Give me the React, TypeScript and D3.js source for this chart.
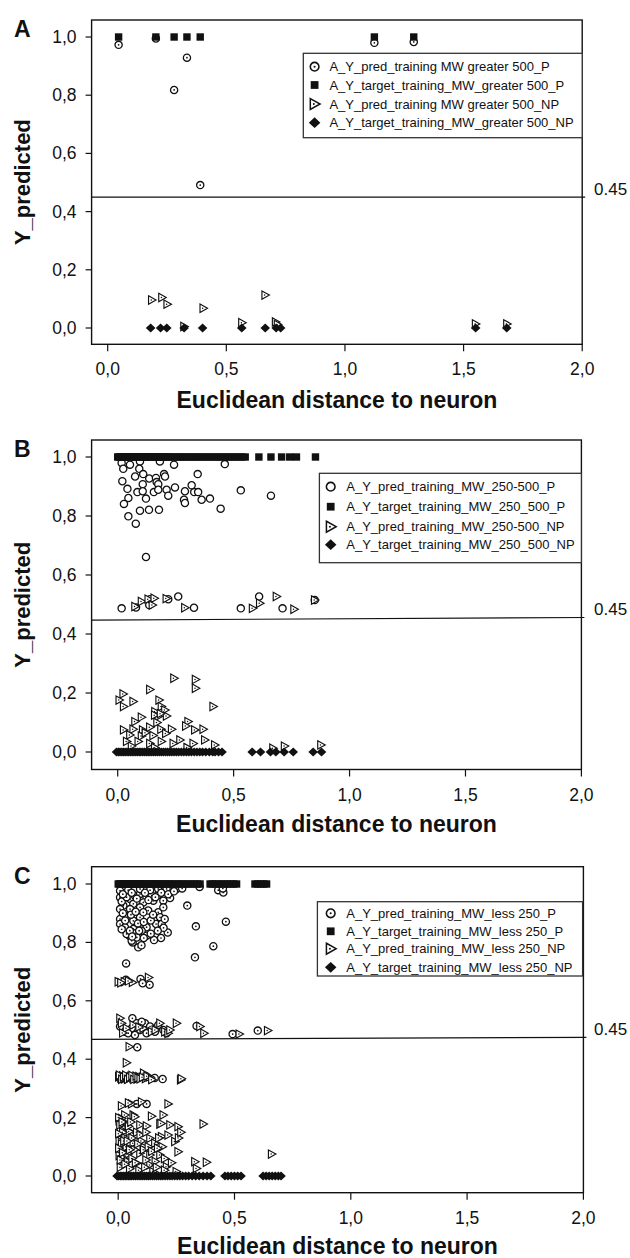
import React from 'react';
import * as d3 from 'd3';

// ---- panel A : MW greater 500 ----
const A_predP = [[0.046, 0.973], [0.203, 0.995], [0.28, 0.818], [0.334, 0.929], [0.39, 0.491], [1.124, 0.98], [1.29, 0.983]];
const A_targetP = [0.046, 0.203, 0.28, 0.334, 0.39, 1.124, 1.29];
const A_predNP = [[0.186, 0.096], [0.229, 0.105], [0.251, 0.082], [0.403, 0.068], [0.664, 0.113], [0.566, 0.018], [0.708, 0.021], [0.716, 0.012], [0.322, 0.005], [1.551, 0.014], [1.683, 0.014]];
const A_targetNP = [0.181, 0.223, 0.249, 0.322, 0.4, 0.565, 0.664, 0.71, 0.729, 1.551, 1.682];
const A_labels = [
  'A_Y_pred_training MW greater 500_P',
  'A_Y_target_training_MW_greater 500_P',
  'A_Y_pred_training MW greater 500_NP',
  'A_Y_target_training_MW_greater 500_NP',
];

// ---- panel B : MW 250-500 ----
const B_predP = [
  [0.017, 0.98], [0.053, 0.974], [0.096, 0.985], [0.182, 0.985], [0.243, 0.974], [0.462, 0.976],
  [0.024, 0.96], [0.093, 0.96], [0.075, 0.934], [0.11, 0.942], [0.2, 0.942], [0.204, 0.934], [0.345, 0.942],
  [0.136, 0.927], [0.165, 0.929], [0.168, 0.915], [0.02, 0.918], [0.108, 0.908], [0.175, 0.908],
  [0.042, 0.892], [0.085, 0.881], [0.108, 0.884], [0.156, 0.881], [0.175, 0.889], [0.211, 0.889], [0.247, 0.897],
  [0.29, 0.884], [0.319, 0.904], [0.33, 0.881], [0.347, 0.881], [0.218, 0.869], [0.046, 0.861], [0.122, 0.859],
  [0.286, 0.855], [0.29, 0.844], [0.362, 0.855], [0.398, 0.859], [0.531, 0.887], [0.661, 0.869],
  [0.027, 0.841], [0.096, 0.818], [0.135, 0.821], [0.178, 0.821], [0.444, 0.825], [0.046, 0.799], [0.078, 0.774], [0.122, 0.661],
  [0.017, 0.487], [0.079, 0.49], [0.136, 0.498], [0.139, 0.518], [0.218, 0.518], [0.261, 0.527], [0.329, 0.489],
  [0.531, 0.487], [0.61, 0.527], [0.711, 0.487], [0.85, 0.515],
];
const B_targetP = [
  0.0, 0.006, 0.012, 0.02, 0.027, 0.033, 0.04, 0.048, 0.055, 0.062, 0.07, 0.078, 0.085, 0.093, 0.1, 0.108,
  0.115, 0.124, 0.132, 0.14, 0.148, 0.157, 0.165, 0.173, 0.182, 0.19, 0.2, 0.21, 0.22, 0.232, 0.245, 0.258,
  0.27, 0.284, 0.298, 0.312, 0.326, 0.34, 0.355, 0.37, 0.385, 0.4, 0.415, 0.43, 0.445, 0.46, 0.475, 0.49,
  0.505, 0.52, 0.535, 0.55, 0.609, 0.661, 0.707, 0.742, 0.771, 0.853,
];
const B_predNP = [
  [0.075, 0.493], [0.103, 0.51], [0.132, 0.518], [0.158, 0.521], [0.15, 0.498], [0.21, 0.52], [0.29, 0.489],
  [0.582, 0.487], [0.613, 0.504], [0.685, 0.527], [0.761, 0.484], [0.85, 0.515],
  [0.243, 0.25], [0.336, 0.246], [0.336, 0.216], [0.139, 0.212], [0.024, 0.197], [0.007, 0.176], [0.067, 0.171],
  [0.026, 0.154], [0.179, 0.176], [0.412, 0.154], [0.189, 0.154], [0.161, 0.137], [0.204, 0.142], [0.175, 0.12],
  [0.211, 0.122], [0.103, 0.118], [0.075, 0.103], [0.304, 0.103], [0.294, 0.088], [0.333, 0.075], [0.369, 0.077],
  [0.026, 0.075], [0.067, 0.077], [0.108, 0.075], [0.139, 0.084], [0.187, 0.077], [0.233, 0.077], [0.053, 0.058],
  [0.103, 0.054], [0.153, 0.056], [0.208, 0.063], [0.269, 0.041], [0.326, 0.029], [0.376, 0.041], [0.419, 0.024],
  [0.039, 0.036], [0.089, 0.036], [0.139, 0.029], [0.189, 0.036], [0.24, 0.029], [0.17, 0.1], [0.16, 0.125],
  [0.185, 0.13], [0.12, 0.065], [0.06, 0.02], [0.16, 0.015], [0.3, 0.015], [0.67, 0.013], [0.72, 0.02], [0.877, 0.024],
];
const B_targetNP = [
  -0.005, 0.003, 0.01, 0.018, 0.025, 0.032, 0.04, 0.047, 0.055, 0.062, 0.07, 0.078, 0.085, 0.093, 0.1, 0.108,
  0.116, 0.124, 0.131, 0.139, 0.147, 0.155, 0.163, 0.171, 0.18, 0.188, 0.197, 0.206, 0.215, 0.224, 0.233, 0.243,
  0.253, 0.263, 0.274, 0.285, 0.296, 0.307, 0.318, 0.33, 0.342, 0.354, 0.366, 0.38, 0.395, 0.41, 0.42, 0.435,
  0.45, 0.58, 0.616, 0.659, 0.682, 0.718, 0.757, 0.843, 0.879,
];
const B_labels = [
  'A_Y_pred_training_MW_250-500_P',
  'A_Y_target_training_MW_250_500_P',
  'A_Y_pred_training_MW_250-500_NP',
  'A_Y_target_training_MW_250_500_NP',
];

// ---- panel C : MW less 250 ----
const C_predP = [
  [0.251, 0.983], [0.43, 0.979], [0.452, 0.971], [0.297, 0.926], [0.334, 0.855], [0.463, 0.871], [0.409, 0.787],
  [0.33, 0.749], [0.034, 0.728], [0.213, 0.834], [0.184, 0.815], [0.154, 0.808], [0.086, 0.783], [0.062, 0.8],
  [0.048, 0.823], [0.008, 0.954], [0.029, 0.966], [0.051, 0.949], [0.072, 0.96], [0.094, 0.966], [0.122, 0.954],
  [0.144, 0.96], [0.172, 0.963], [0.201, 0.954], [0.223, 0.952], [0.194, 0.943], [0.151, 0.943], [0.108, 0.937],
  [0.065, 0.932], [0.022, 0.926], [0.008, 0.914], [0.051, 0.914], [0.094, 0.92], [0.129, 0.909], [0.172, 0.903],
  [0.18, 0.886], [0.008, 0.88], [0.043, 0.891], [0.065, 0.874], [0.094, 0.886], [0.008, 0.863], [0.029, 0.852],
  [0.065, 0.846], [0.094, 0.857], [0.122, 0.852], [0.163, 0.863], [0.187, 0.863], [0.036, 0.829], [0.072, 0.831],
  [0.101, 0.84], [0.122, 0.823], [0.058, 0.806], [0.08, 0.817], [0.137, 0.979], [0.094, 0.983], [0.208, 0.983],
  [0.043, 0.979], [0.008, 0.977], [0.172, 0.983], [0.194, 0.92], [0.108, 0.903],
  [0.015, 0.94], [0.036, 0.955], [0.058, 0.97], [0.08, 0.95], [0.115, 0.97], [0.13, 0.945], [0.16, 0.955],
  [0.185, 0.97], [0.215, 0.965], [0.02, 0.9], [0.03, 0.875], [0.055, 0.895], [0.075, 0.905], [0.085, 0.865],
  [0.11, 0.87], [0.14, 0.875], [0.15, 0.895], [0.2, 0.88], [0.195, 0.85], [0.17, 0.84], [0.14, 0.83],
  [0.11, 0.815], [0.09, 0.84], [0.05, 0.84], [0.06, 0.82], [0.1, 0.79], [0.015, 0.845], [0.02, 0.965],
  [0.24, 0.975], [0.275, 0.985], [0.35, 0.99], [0.45, 0.985],
  [0.033, 0.672], [0.096, 0.675], [0.135, 0.655], [0.105, 0.66],
  [0.061, 0.54], [0.008, 0.512], [0.029, 0.494], [0.058, 0.506], [0.08, 0.523], [0.094, 0.5], [0.115, 0.523],
  [0.137, 0.512], [0.158, 0.494], [0.172, 0.517], [0.194, 0.5], [0.208, 0.489], [0.043, 0.489], [0.072, 0.483],
  [0.122, 0.489], [0.101, 0.528], [0.337, 0.514], [0.492, 0.486], [0.6, 0.498], [0.082, 0.441],
  [0.122, 0.34], [0.157, 0.336], [0.191, 0.332], [0.1, 0.34], [0.08, 0.247], [0.122, 0.247],
];
const C_targetP = [
  0.0, 0.006, 0.012, 0.018, 0.025, 0.032, 0.04, 0.047, 0.055, 0.062, 0.07, 0.078, 0.086, 0.094, 0.102, 0.11,
  0.118, 0.127, 0.136, 0.145, 0.154, 0.163, 0.172, 0.182, 0.192, 0.202, 0.213, 0.224, 0.236, 0.248, 0.26,
  0.272, 0.285, 0.298, 0.312, 0.326, 0.34, 0.352, 0.395, 0.405, 0.417, 0.43, 0.443, 0.456, 0.47, 0.483,
  0.496, 0.509, 0.588, 0.6, 0.613, 0.626, 0.638,
];
const C_predNP = [
  [0.001, 0.665], [0.027, 0.665], [0.062, 0.663], [0.131, 0.68], [0.012, 0.662], [0.045, 0.668],
  [0.008, 0.54], [0.015, 0.523], [0.036, 0.506], [0.065, 0.517], [0.108, 0.506], [0.144, 0.494], [0.18, 0.523],
  [0.201, 0.494], [0.215, 0.489], [0.223, 0.5], [0.251, 0.523], [0.352, 0.512], [0.369, 0.489], [0.521, 0.486],
  [0.643, 0.498], [0.02, 0.49], [0.09, 0.51], [0.16, 0.5], [0.048, 0.443], [0.036, 0.388],
  [0.003, 0.34], [0.012, 0.336], [0.02, 0.343], [0.028, 0.333], [0.037, 0.338], [0.046, 0.334], [0.055, 0.341],
  [0.064, 0.335], [0.073, 0.338], [0.082, 0.332], [0.09, 0.34], [0.11, 0.352], [0.118, 0.334], [0.135, 0.34],
  [0.006, 0.345], [0.016, 0.331], [0.024, 0.339], [0.033, 0.345], [0.041, 0.331], [0.05, 0.338], [0.06, 0.344],
  [0.068, 0.331], [0.078, 0.342], [0.086, 0.336], [0.095, 0.333], [0.105, 0.338], [0.125, 0.342], [0.145, 0.33],
  [0.269, 0.329], [0.272, 0.333],
  [0.015, 0.24], [0.058, 0.247], [0.101, 0.254], [0.215, 0.247], [0.045, 0.25],
  [0.029, 0.209], [0.065, 0.209], [0.144, 0.205], [0.194, 0.209], [0.366, 0.178], [0.094, 0.175], [0.122, 0.171],
  [0.223, 0.175], [0.258, 0.169], [0.18, 0.178], [0.029, 0.169], [0.015, 0.135], [0.065, 0.146], [0.137, 0.129],
  [0.187, 0.135], [0.215, 0.14], [0.244, 0.118], [0.258, 0.083], [0.158, 0.112], [0.108, 0.1], [0.065, 0.112],
  [0.022, 0.1], [0.043, 0.075], [0.094, 0.078], [0.137, 0.072], [0.18, 0.072], [0.33, 0.049], [0.38, 0.047],
  [0.337, 0.026], [0.022, 0.044], [0.08, 0.044], [0.137, 0.038], [0.208, 0.032], [0.66, 0.075], [0.072, 0.203],
  [0.015, 0.197], [0.029, 0.183], [0.048, 0.152], [0.005, 0.19], [0.01, 0.16], [0.02, 0.15], [0.005, 0.12],
  [0.03, 0.13], [0.012, 0.09], [0.035, 0.1], [0.005, 0.07], [0.025, 0.06], [0.04, 0.05], [0.01, 0.03],
  [0.05, 0.025], [0.06, 0.13], [0.08, 0.15], [0.1, 0.12], [0.11, 0.09], [0.12, 0.055], [0.16, 0.05],
  [0.19, 0.1], [0.2, 0.02], [0.25, 0.015], [0.09, 0.02], [0.15, 0.015], [0.07, 0.09],
  [0.003, 0.2], [0.008, 0.175], [0.018, 0.185], [0.003, 0.145], [0.015, 0.11], [0.025, 0.12], [0.003, 0.095],
  [0.02, 0.08], [0.01, 0.055], [0.03, 0.04], [0.045, 0.17], [0.055, 0.185], [0.04, 0.12], [0.05, 0.09],
  [0.06, 0.06], [0.075, 0.045], [0.085, 0.11], [0.095, 0.14], [0.12, 0.15], [0.13, 0.1], [0.145, 0.085],
  [0.17, 0.095], [0.175, 0.13], [0.2, 0.06], [0.23, 0.045], [0.115, 0.03], [0.165, 0.03], [0.26, 0.13],
  [0.27, 0.15], [0.185, 0.18],
];
const C_targetNP = [
  -0.005, 0.002, 0.009, 0.016, 0.023, 0.03, 0.037, 0.044, 0.051, 0.058, 0.066, 0.074, 0.082, 0.09, 0.098,
  0.106, 0.114, 0.122, 0.13, 0.138, 0.147, 0.156, 0.165, 0.174, 0.183, 0.192, 0.202, 0.212, 0.222, 0.232,
  0.243, 0.254, 0.265, 0.277, 0.29, 0.303, 0.318, 0.333, 0.348, 0.365, 0.382, 0.398, 0.459, 0.472, 0.486,
  0.5, 0.514, 0.528, 0.623, 0.636, 0.649, 0.662, 0.675, 0.688, 0.7,
];
const C_labels = [
  'A_Y_pred_training_MW_less 250_P',
  'A_Y_target_training_MW_less 250_P',
  'A_Y_pred_training_MW_less 250_NP',
  'A_Y_target_training_MW_less 250_NP',
];

const X_TICKS = [0, 0.5, 1, 1.5, 2];
const Y_TICKS = [0, 0.2, 0.4, 0.6, 0.8, 1];
const THRESHOLD_LABEL = '0.45';

const FONT = 'Liberation Sans, Arial, Helvetica, sans-serif';
const INK = '#111';

const panels = [
  {
    letter: 'A', left: 91.6, right: 582.2, top: 20, bottom: 344.3, y0: 328, y1: 37, x0: 107.7, x2: 582.2,
    thr: [0.45, 0.45], dotted: true, titleY: 408,
    legend: { x: 303.3, y: 53.3, w: 278.9, h: 84.4, rows: [66.7, 85, 104, 122.7], sx: 314.6, tx: 329.4 },
    labels: A_labels, predP: A_predP, targetP: A_targetP, predNP: A_predNP, targetNP: A_targetNP,
  },
  {
    letter: 'B', left: 91.6, right: 581.4, top: 440, bottom: 769.5, y0: 752, y1: 457, x0: 117.7, x2: 581.4,
    thr: [0.447, 0.456], dotted: false, titleY: 832,
    legend: { x: 319.4, y: 473.3, w: 262, h: 89.4, rows: [486.7, 506.7, 526.7, 544.7], sx: 330.7, tx: 346.3 },
    labels: B_labels, predP: B_predP, targetP: B_targetP, predNP: B_predNP, targetNP: B_targetNP,
  },
  {
    letter: 'C', left: 91.6, right: 583.4, top: 866.7, bottom: 1192.7, y0: 1176, y1: 884, x0: 118.2, x2: 583.4,
    thr: [0.468, 0.475], dotted: true, titleY: 1254,
    legend: { x: 317.4, y: 901.7, w: 265.2, h: 74.3, rows: [913.3, 931.3, 948.7, 967.3], sx: 330.7, tx: 346.3 },
    labels: C_labels, predP: C_predP, targetP: C_targetP, predNP: C_predNP, targetNP: C_targetNP,
  },
];

const fmt = (v: number) => d3.format('.1f')(v).replace('.', ',');

function Circle({ x, y, dotted, s = 1 }: any) {
  return (
    <g transform={`translate(${x},${y}) scale(${s})`}>
      <circle r={3.6} fill="#fff" stroke={INK} strokeWidth={1.3} />
      {dotted && <circle r={0.85} fill={INK} />}
    </g>
  );
}
function Square({ x, y, s = 1 }: any) {
  return <rect x={x - 3.7 * s} y={y - 3.7 * s} width={7.4 * s} height={7.4 * s} fill={INK} />;
}
function Tri({ x, y, s = 1 }: any) {
  return (
    <g transform={`translate(${x},${y}) scale(${s})`}>
      <path d="M-3.3,-4.2L4.2,0L-3.3,4.2Z" fill="#fff" stroke={INK} strokeWidth={1.15} />
      <circle cx={-0.6} r={0.75} fill={INK} />
    </g>
  );
}
function Diamond({ x, y, s = 1 }: any) {
  return <path transform={`translate(${x},${y}) scale(${s})`} d="M0,-4.5L4.8,0L0,4.5L-4.8,0Z" fill={INK} />;
}

function Panel({ p }: any) {
  const xs = d3.scaleLinear().domain([0, 2]).range([p.x0, p.x2]);
  const ys = d3.scaleLinear().domain([0, 1]).range([p.y0, p.y1]);
  const lg = p.legend;
  const tl = ys(p.thr[0]);
  const tr = ys(p.thr[1]);
  const midX = (p.left + p.right) / 2;
  const midY = (p.top + p.bottom) / 2;
  return (
    <g>
      <text x={14} y={p.top + 17} fontFamily={FONT} fontWeight="bold" fontSize={23} fill={INK}>{p.letter}</text>
      {/* frame */}
      <rect x={p.left} y={p.top} width={p.right - p.left} height={p.bottom - p.top} fill="none" stroke={INK} strokeWidth={1.4} />
      {/* y axis */}
      {Y_TICKS.map((t) => (
        <g key={'y' + t}>
          <line x1={p.left - 6} x2={p.left} y1={ys(t)} y2={ys(t)} stroke={INK} strokeWidth={1.2} />
          <text x={p.left - 15} y={ys(t) + 6} textAnchor="end" fontFamily={FONT} fontSize={17.5} fill={INK}>{fmt(t)}</text>
        </g>
      ))}
      {/* x axis */}
      {X_TICKS.map((t) => (
        <g key={'x' + t}>
          <line x1={xs(t)} x2={xs(t)} y1={p.bottom} y2={p.bottom + 7} stroke={INK} strokeWidth={1.2} />
          <text x={xs(t)} y={p.bottom + 31} textAnchor="middle" fontFamily={FONT} fontSize={17.5} fill={INK}>{fmt(t)}</text>
        </g>
      ))}
      <text x={midX} y={p.titleY} textAnchor="middle" fontFamily={FONT} fontWeight="bold" fontSize={23} fill={INK}>
        Euclidean distance to neuron
      </text>
      <text transform={`translate(30,${midY}) rotate(-90)`} textAnchor="middle" fontFamily={FONT} fontWeight="bold" fontSize={22} fill={INK}>
        Y_predicted
      </text>
      {/* threshold */}
      <line x1={p.left} x2={p.right + 3} y1={tl} y2={tr} stroke={INK} strokeWidth={1.2} />
      <text x={594} y={tr - 2.5} fontFamily={FONT} fontSize={17} fill={INK}>{THRESHOLD_LABEL}</text>
      {/* marks */}
      {p.predP.map((d: number[], i: number) => <Circle key={'c' + i} x={xs(d[0])} y={ys(d[1])} dotted={p.dotted} />)}
      {p.targetP.map((v: number, i: number) => <Square key={'s' + i} x={xs(v)} y={ys(1)} />)}
      {p.predNP.map((d: number[], i: number) => <Tri key={'t' + i} x={xs(d[0])} y={ys(d[1])} />)}
      {p.targetNP.map((v: number, i: number) => <Diamond key={'d' + i} x={xs(v)} y={ys(0)} />)}
      {/* legend */}
      <rect x={lg.x} y={lg.y} width={lg.w} height={lg.h} fill="#fff" stroke="#333" strokeWidth={1.3} />
      <Circle x={lg.sx} y={lg.rows[0]} dotted={p.dotted} s={1.2} />
      <Square x={lg.sx} y={lg.rows[1]} s={1.05} />
      <Tri x={lg.sx} y={lg.rows[2]} s={1.3} />
      <Diamond x={lg.sx} y={lg.rows[3]} s={1.2} />
      {p.labels.map((l: string, i: number) => (
        <text key={l} x={lg.tx} y={lg.rows[i] + 4.6} fontFamily={FONT} fontSize={13} fill={INK}>{l}</text>
      ))}
    </g>
  );
}

export default function App() {
  return (
    <svg width={630} height={1258} viewBox="0 0 630 1258" style={{ position: 'absolute', left: 0, top: 0, background: '#fff' }}>
      <rect width={630} height={1258} fill="#fff" />
      {panels.map((p) => <Panel key={p.letter} p={p} />)}
    </svg>
  );
}
